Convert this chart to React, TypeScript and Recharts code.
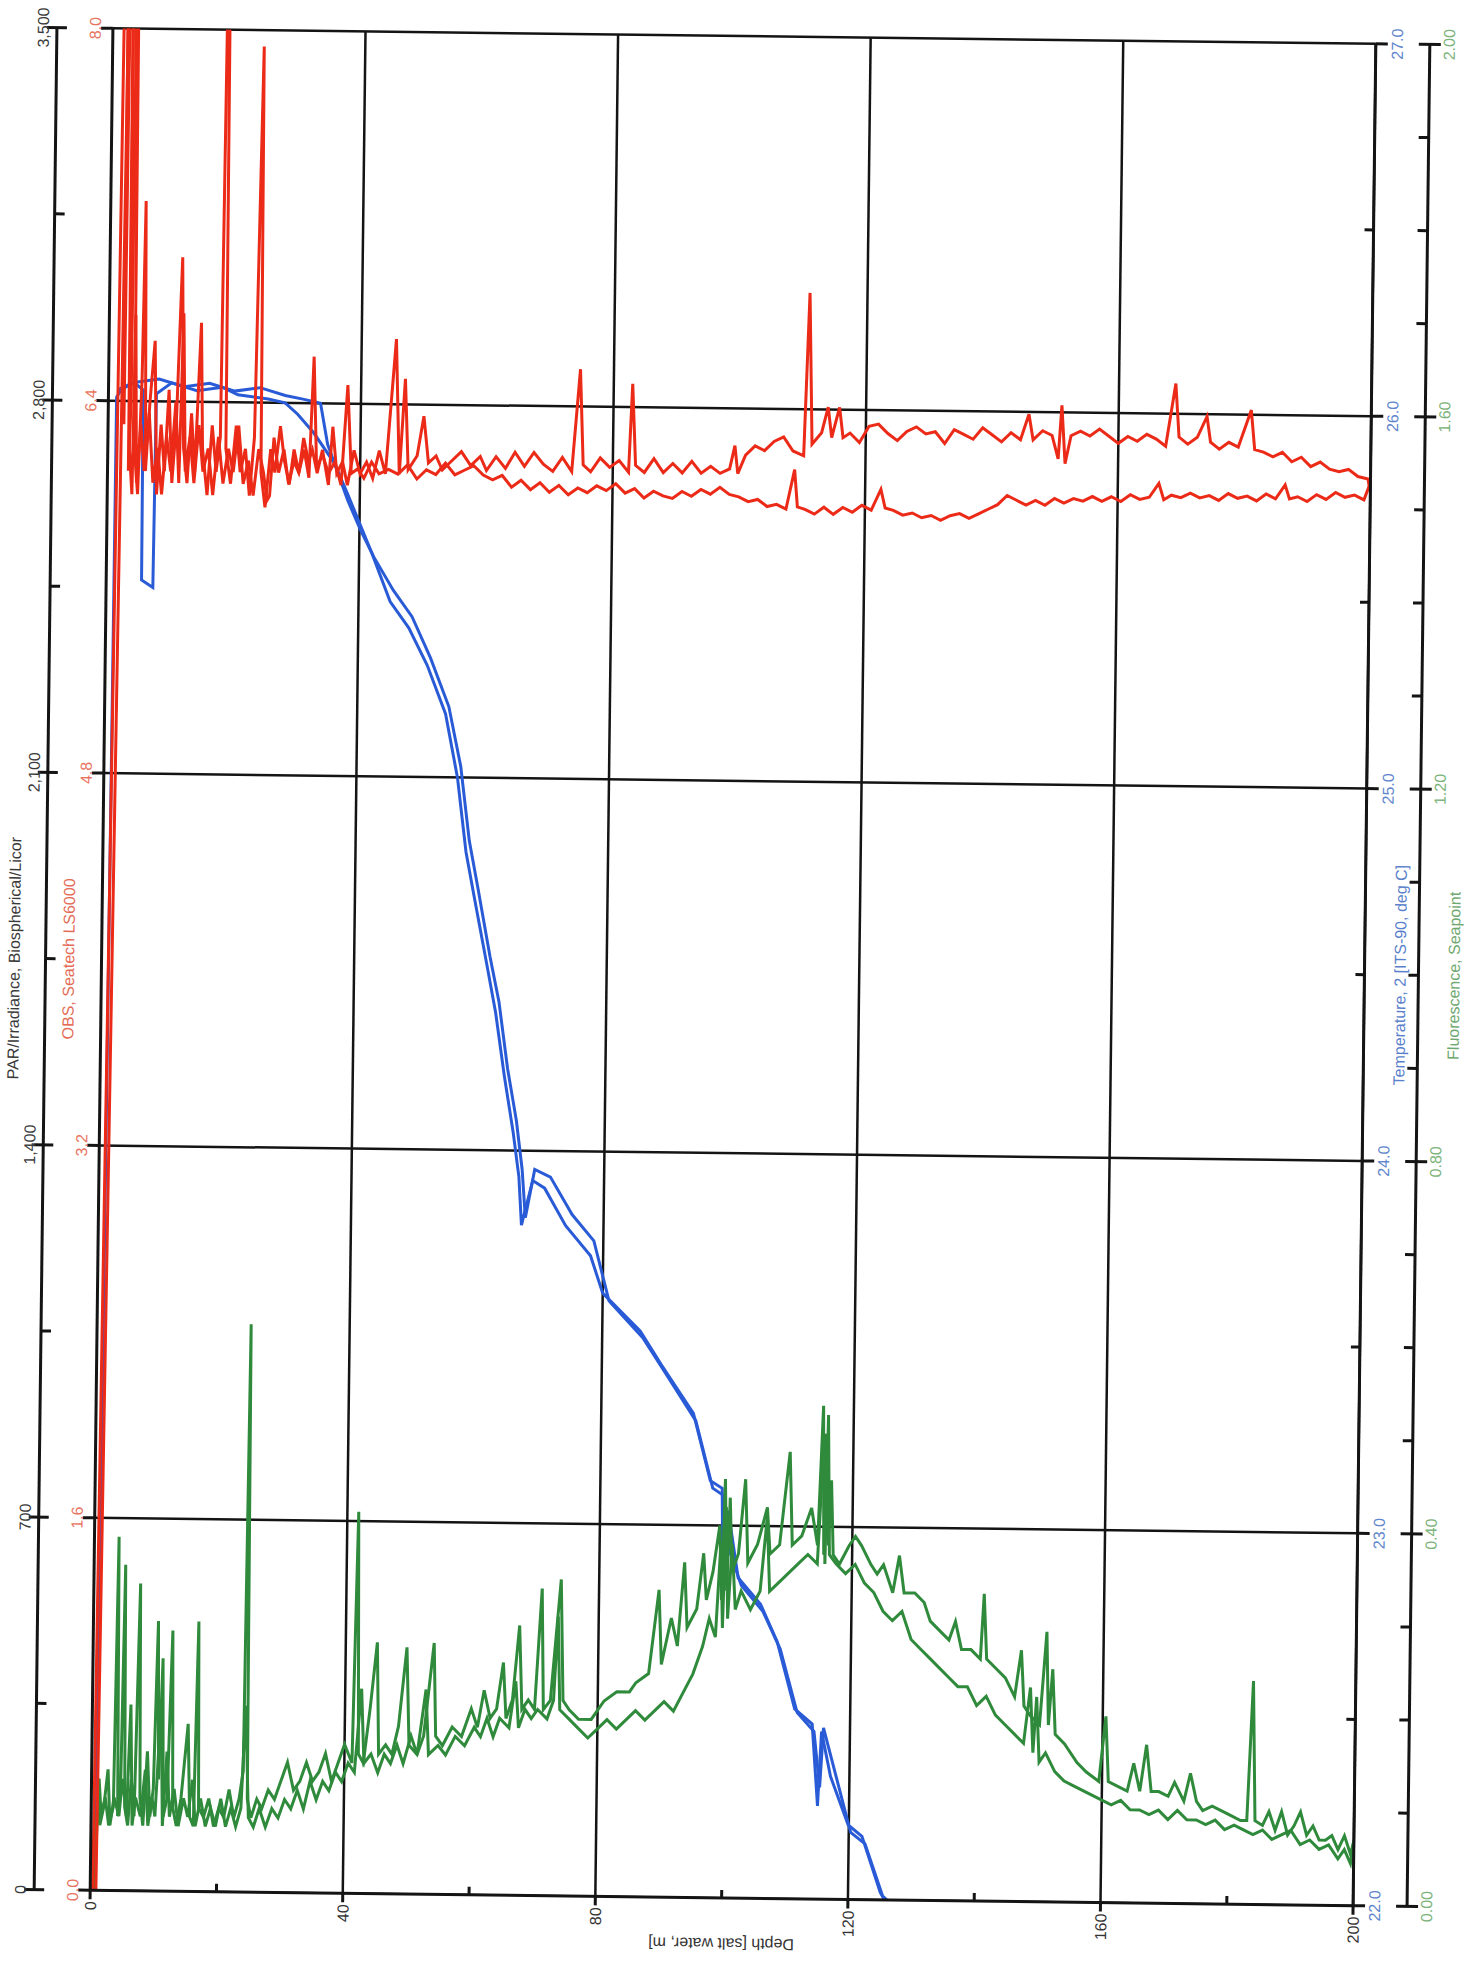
import React from "react";
import { LineChart, Line, XAxis, YAxis, ReferenceLine } from "recharts";

const FONT = "'Liberation Sans', Arial, Helvetica, sans-serif";

// axis ticks
const depthTicks = [0, 20, 40, 60, 80, 100, 120, 140, 160, 180, 200];
const parTicks = [0, 350, 700, 1050, 1400, 1750, 2100, 2450, 2800, 3150, 3500];
const obsTicks = [0, 1.6, 3.2, 4.8, 6.4, 8.0];
const tempTicks = [22, 22.5, 23, 23.5, 24, 24.5, 25, 25.5, 26, 26.5, 27];
const fluorTicks = [0, 0.1, 0.2, 0.3, 0.4, 0.5, 0.6, 0.7, 0.8, 0.9, 1.0, 1.1, 1.2, 1.3, 1.4, 1.5, 1.6, 1.7, 1.8, 1.9, 2.0];
const depthGrid = [40, 80, 120, 160, 200];
const obsGrid = [1.6, 3.2, 4.8, 6.4, 8.0];

// [depth m, value]
const par: [number, number][] = [[0.2, 0], [1, 0], [50, 0], [100, 0], [150, 0], [200, 0]];

const tempDown: [number, number][] = [
  [0.8, 21.98], [1.3, 26.01], [2, 26.03], [4, 26.05], [5.5, 26.03], [5.6, 25.52], [7.4, 25.5], [7.6, 26.02],
  [10, 26.05], [14, 26.03], [18, 26.04], [20.5, 26.02], [25.3, 26.01], [28, 26.0], [30, 25.97], [32.6, 25.92],
  [35.9, 25.84], [38, 25.76], [40, 25.68], [42, 25.6], [45, 25.47], [48, 25.4], [51, 25.3], [54, 25.17],
  [56, 25.0], [57.5, 24.8], [59, 24.67], [61, 24.5], [62.5, 24.37], [64, 24.2], [65.5, 24.05], [66.5, 23.93],
  [67, 23.8], [68.7, 23.92], [70.6, 23.9], [74, 23.8], [78, 23.72], [80, 23.62], [86, 23.52], [89.4, 23.43],
  [94.6, 23.3], [97.4, 23.12], [99.3, 23.1], [99.5, 22.92], [100.3, 23.04], [102, 22.86], [105.6, 22.79],
  [108.3, 22.69], [111.2, 22.51], [114, 22.47], [115, 22.25], [115.5, 22.45], [117, 22.33], [119.9, 22.2],
  [122.1, 22.17], [125.1, 22.02], [126.5, 21.98],
];

const tempUp: [number, number][] = [
  [1.5, 26.03], [4, 26.05], [8, 26.06], [12, 26.04], [16, 26.05], [20, 26.03], [24, 26.04], [28, 26.02],
  [31, 26.01], [33.6, 26.0], [34.8, 25.89], [38.1, 25.74], [40.2, 25.66], [42.3, 25.59], [45.5, 25.5],
  [48.5, 25.43], [51.5, 25.32], [54.5, 25.19], [56.5, 25.03], [58, 24.83], [59.5, 24.7], [61.5, 24.52],
  [63, 24.4], [64.5, 24.22], [66, 24.08], [67, 23.95], [67.6, 23.82], [69, 23.95], [71.5, 23.93], [75, 23.83],
  [78.5, 23.76], [81, 23.6], [86.5, 23.5], [90, 23.41], [95, 23.28], [97.8, 23.1], [99.6, 23.08], [100.2, 22.95],
  [102.5, 22.84], [106, 22.77], [108.8, 22.67], [111.6, 22.5], [114.3, 22.45], [115.3, 22.3], [115.8, 22.46],
  [120.3, 22.18], [122.6, 22.15], [125.5, 22.01], [126.8, 21.99],
];

const obsDown: [number, number][] = [
  [0.4, 0.0], [2.2, 10.5], [2.5, 6.3], [3.0, 11], [3.3, 6.1], [3.6, 6.4], [3.9, 10.5], [4.2, 6.2], [4.8, 6.0],
  [5.3, 6.5], [5.6, 7.26], [6.0, 6.1], [6.6, 6.4], [7.3, 6.66], [7.8, 6.0], [8.4, 6.3], [9.0, 6.1], [9.6, 6.45],
  [10.2, 6.05], [10.8, 6.3], [11.5, 7.02], [12.0, 6.2], [12.6, 6.05], [13.2, 6.35], [13.8, 6.1], [14.6, 6.74],
  [15.0, 6.2], [15.8, 6.0], [16.5, 6.3], [17.2, 6.1], [17.8, 6.25], [18.4, 9.5], [18.7, 6.2], [19.5, 6.05],
  [20.3, 6.3], [21.0, 6.1], [21.8, 6.2], [22.5, 6.0], [23.2, 6.25], [24.0, 7.93], [24.3, 6.1], [25.0, 5.95],
  [25.8, 6.2], [26.5, 6.1], [27.3, 6.3], [28.0, 6.15], [28.8, 6.05], [29.5, 6.2], [30.3, 6.1], [31.0, 6.25],
  [31.8, 6.15], [32.4, 6.2], [33.2, 6.1], [34.0, 6.2], [35.0, 6.05], [35.6, 6.3], [36.3, 6.1], [37.2, 6.15],
  [38.0, 6.05], [39.0, 6.2], [40.0, 6.1], [41.0, 6.15], [42.0, 6.08], [43, 6.2], [44, 6.1], [45.5, 6.68],
  [46.2, 6.1], [47, 6.51], [47.6, 6.12], [49, 6.18], [50, 6.35], [50.8, 6.15], [52, 6.18], [53, 6.12],
  [54.5, 6.16], [56, 6.2], [57.5, 6.14], [59, 6.18], [60, 6.12], [61.5, 6.18], [63, 6.13], [64.5, 6.2],
  [66, 6.14], [67.5, 6.2], [69, 6.15], [70.5, 6.12], [72, 6.18], [73.5, 6.12], [74.7, 6.56], [75.3, 6.15],
  [76.5, 6.12], [78, 6.18], [79.5, 6.14], [81, 6.17], [82.5, 6.12], [83, 6.5], [83.6, 6.15], [85, 6.12],
  [86.5, 6.18], [88, 6.12], [89.5, 6.16], [91, 6.12], [92.5, 6.17], [94, 6.12], [95.5, 6.15], [97, 6.12],
  [98.5, 6.14], [99.3, 6.24], [99.8, 6.12], [101, 6.2], [102.5, 6.24], [104, 6.22], [105.5, 6.26], [107, 6.28],
  [108.5, 6.22], [110.2, 6.2], [110.9, 6.9], [111.5, 6.25], [113, 6.3], [114, 6.41], [114.6, 6.28], [115.8, 6.41],
  [116.4, 6.28], [117.5, 6.3], [119, 6.26], [120.5, 6.33], [122, 6.34], [123.5, 6.3], [125, 6.27], [126.5, 6.31],
  [128, 6.33], [129.5, 6.3], [131, 6.31], [132.5, 6.26], [134, 6.32], [135.5, 6.3], [137, 6.28], [138.5, 6.33],
  [140, 6.3], [141.5, 6.27], [143, 6.31], [144.5, 6.28], [145.8, 6.39], [146.5, 6.28], [148, 6.32], [149.5, 6.3],
  [150.5, 6.2], [151, 6.43], [151.6, 6.18], [152.5, 6.3], [154, 6.32], [155.5, 6.3], [157, 6.33], [158.5, 6.3],
  [160, 6.27], [161.5, 6.3], [163, 6.28], [164.5, 6.31], [166, 6.29], [167.5, 6.26], [169, 6.53], [169.6, 6.3],
  [171, 6.27], [172.5, 6.3], [174, 6.39], [174.6, 6.28], [176, 6.25], [177.5, 6.28], [179, 6.26], [181, 6.42],
  [181.6, 6.25], [183, 6.24], [184.5, 6.22], [186, 6.24], [187.5, 6.2], [189, 6.22], [190.5, 6.18], [192, 6.2],
  [193.5, 6.17], [195, 6.16], [196.5, 6.17], [198, 6.14], [199.6, 6.13], [199.8, 6.1],
];

const obsUp: [number, number][] = [
  [0.9, 0.0], [3.0, 11.0], [3.4, 6.2], [3.9, 6.0], [4.2, 6.77], [4.6, 6.05], [5.2, 6.3], [5.8, 6.1],
  [6.5, 6.35], [7.2, 6.05], [7.9, 6.2], [8.6, 6.0], [9.3, 6.25], [10.0, 6.1], [10.7, 6.4], [11.3, 6.05],
  [11.8, 6.78], [12.3, 6.1], [13.0, 6.25], [13.7, 6.05], [14.4, 6.3], [15.1, 6.1], [15.9, 6.2], [16.7, 6.0],
  [17.5, 6.25], [18.3, 6.05], [19.1, 6.2], [19.9, 6.1], [20.7, 6.3], [21.5, 6.05], [22.3, 6.15], [23.1, 6.0],
  [23.9, 6.2], [24.7, 6.1], [25.3, 5.98], [25.7, 6.0], [26.3, 6.25], [27.1, 6.1], [27.9, 6.2], [28.7, 6.05],
  [29.5, 6.15], [30.3, 6.1], [31.1, 6.2], [31.9, 6.08], [32.5, 6.6], [33.1, 6.12], [34.0, 6.18], [35.0, 6.1],
  [36.0, 6.15], [37.0, 6.05], [37.9, 6.48], [38.6, 6.1], [39.6, 6.12], [40.6, 6.08], [41.8, 6.15], [43.0, 6.1],
  [44.5, 6.12], [46, 6.1], [47.5, 6.14], [49, 6.08], [50.5, 6.12], [52, 6.1], [53.5, 6.15], [55, 6.1],
  [56.5, 6.12], [58, 6.14], [59.5, 6.1], [61, 6.08], [62.5, 6.1], [64, 6.05], [65.5, 6.08], [67, 6.04],
  [68.5, 6.07], [70, 6.03], [71.5, 6.06], [73, 6.02], [74.5, 6.05], [76, 6.03], [77.5, 6.06], [79, 6.04],
  [80.5, 6.07], [82, 6.03], [83.5, 6.05], [85, 6.01], [86.5, 6.04], [88, 6.02], [89.5, 6.01], [91, 6.04],
  [92.5, 6.02], [94, 6.05], [95.5, 6.03], [97, 6.06], [98.5, 6.03], [100, 6.02], [101.5, 6.0], [103, 6.01],
  [104.5, 5.98], [106, 5.99], [107.5, 5.97], [108.8, 6.14], [109.3, 5.98], [110.5, 5.97], [112, 5.95],
  [113.5, 5.98], [115, 5.95], [116.5, 5.98], [118, 5.96], [119.5, 5.99], [121, 5.97], [122.5, 6.06],
  [123.2, 5.98], [124.5, 5.97], [126, 5.95], [127.5, 5.96], [129, 5.94], [130.5, 5.95], [132, 5.93],
  [133.5, 5.95], [135, 5.96], [136.5, 5.94], [138, 5.96], [139.5, 5.98], [141, 6.0], [142.5, 6.04], [144, 6.02],
  [145.5, 6.0], [147, 6.02], [148.5, 6.0], [150, 6.03], [151.5, 6.01], [153, 6.03], [154.5, 6.02], [156, 6.04],
  [157.5, 6.02], [159, 6.04], [160.5, 6.02], [162, 6.05], [163.5, 6.03], [165, 6.04], [166.5, 6.1],
  [167.3, 6.03], [168.5, 6.05], [170, 6.04], [171.5, 6.06], [173, 6.04], [174.5, 6.05], [176, 6.03],
  [177.5, 6.06], [179, 6.04], [180.5, 6.05], [182, 6.03], [183.5, 6.06], [185, 6.04], [186.5, 6.1],
  [187.2, 6.04], [188.5, 6.05], [190, 6.03], [191.5, 6.06], [193, 6.04], [194.5, 6.07], [196, 6.05],
  [197.5, 6.06], [199, 6.04], [199.8, 6.1],
];

const fluorDown: [number, number][] = [
  [0.3, 0.0], [0.8, 0.04], [1.2, 0.12], [1.6, 0.08], [2.2, 0.1], [2.8, 0.07], [3.5, 0.09], [3.9, 0.38],
  [4.2, 0.08], [4.6, 0.1], [5.0, 0.35], [5.3, 0.09], [5.8, 0.07], [6.3, 0.12], [6.8, 0.08], [7.4, 0.33],
  [7.7, 0.1], [8.2, 0.07], [8.8, 0.15], [9.3, 0.08], [9.8, 0.11], [10.3, 0.29], [10.6, 0.12], [11.1, 0.25],
  [11.4, 0.08], [12.0, 0.1], [12.6, 0.28], [12.9, 0.09], [13.5, 0.07], [14.2, 0.1], [15.2, 0.18], [15.6, 0.08],
  [16.2, 0.07], [16.7, 0.29], [17.0, 0.09], [17.8, 0.08], [18.6, 0.1], [19.4, 0.07], [20.2, 0.09], [21.0, 0.08],
  [21.8, 0.11], [22.6, 0.08], [23.4, 0.1], [24.0, 0.13], [24.4, 0.61], [24.7, 0.1], [25.3, 0.08], [26.2, 0.1],
  [27.0, 0.09], [28.0, 0.11], [29.0, 0.1], [30.0, 0.12], [31.0, 0.14], [32.0, 0.11], [33.0, 0.12], [34.0, 0.14],
  [35.0, 0.12], [36.0, 0.13], [37.0, 0.15], [38.0, 0.12], [39.0, 0.14], [40.0, 0.16], [41.2, 0.14], [41.8, 0.41],
  [42.2, 0.15], [43.0, 0.14], [44.0, 0.2], [45.0, 0.27], [45.4, 0.15], [46.5, 0.16], [47.5, 0.15], [48.5, 0.18],
  [49.7, 0.265], [50.2, 0.16], [51.5, 0.15], [52.5, 0.17], [54.0, 0.27], [54.4, 0.17], [55.5, 0.16], [57.0, 0.18],
  [58.5, 0.17], [60.0, 0.2], [61.0, 0.18], [62.0, 0.22], [63.0, 0.19], [64.0, 0.2], [65.0, 0.25], [65.5, 0.19],
  [66.5, 0.21], [67.5, 0.29], [68.0, 0.2], [69.0, 0.21], [70.0, 0.2], [71.0, 0.33], [71.4, 0.2], [72.5, 0.21],
  [74.0, 0.34], [74.5, 0.21], [75.5, 0.2], [77.0, 0.19], [79.0, 0.19], [81.0, 0.21], [83.0, 0.22], [85.0, 0.22],
  [86.0, 0.23], [88.0, 0.24], [89.5, 0.33], [90.0, 0.25], [91.5, 0.3], [92.5, 0.27], [93.5, 0.36], [94.0, 0.29],
  [95.5, 0.31], [96.5, 0.37], [97.0, 0.32], [98.0, 0.35], [99.0, 0.4], [99.4, 0.32], [99.8, 0.45], [100.2, 0.33],
  [100.6, 0.43], [101.0, 0.35], [102.0, 0.37], [103.0, 0.45], [103.5, 0.36], [105.0, 0.38], [106.5, 0.42],
  [107.0, 0.37], [108.5, 0.38], [110.0, 0.48], [110.5, 0.38], [112.0, 0.39], [113.5, 0.42], [114.5, 0.38],
  [115.2, 0.53], [115.5, 0.37], [115.8, 0.5], [116.2, 0.38], [116.6, 0.45], [117.0, 0.37], [118.0, 0.36],
  [119.5, 0.38], [120.5, 0.39], [121.5, 0.38], [123.0, 0.36], [124.0, 0.35], [125.0, 0.36], [126.5, 0.33],
  [127.5, 0.37], [128.3, 0.33], [130.0, 0.33], [131.5, 0.32], [132.5, 0.3], [134.0, 0.29], [135.5, 0.28],
  [136.5, 0.3], [137.5, 0.27], [139.0, 0.27], [140.5, 0.26], [141.0, 0.33], [141.5, 0.26], [143.0, 0.25],
  [144.5, 0.24], [146.0, 0.22], [147.0, 0.27], [147.5, 0.21], [148.5, 0.2], [150.0, 0.19], [151.0, 0.29],
  [151.4, 0.19], [152.0, 0.25], [152.5, 0.18], [154.0, 0.17], [156.0, 0.15], [157.5, 0.14], [158.5, 0.135],
  [159.5, 0.13], [160.5, 0.2], [161.0, 0.13], [162.5, 0.125], [164.0, 0.12], [165.0, 0.15], [166.0, 0.12],
  [167.0, 0.17], [167.8, 0.12], [169.0, 0.12], [170.5, 0.115], [171.5, 0.13], [173.0, 0.11], [174.0, 0.14],
  [175.0, 0.11], [176.0, 0.1], [177.5, 0.105], [179.0, 0.1], [180.5, 0.095], [182.0, 0.09], [183.0, 0.09],
  [183.8, 0.24], [184.3, 0.09], [185.5, 0.085], [186.5, 0.1], [187.5, 0.08], [188.5, 0.1], [189.5, 0.075],
  [190.5, 0.085], [191.5, 0.1], [192.5, 0.075], [193.5, 0.085], [194.5, 0.07], [195.5, 0.07], [196.5, 0.075],
  [197.5, 0.06], [198.5, 0.075], [199.5, 0.055], [200.0, 0.07],
];

const fluorUp: [number, number][] = [
  [0.6, 0.0], [1.0, 0.1], [1.4, 0.07], [2.0, 0.09], [2.6, 0.13], [3.0, 0.07], [3.6, 0.1], [4.4, 0.08],
  [4.9, 0.12], [5.6, 0.08], [6.1, 0.2], [6.5, 0.07], [7.0, 0.1], [7.8, 0.08], [8.5, 0.13], [9.0, 0.07],
  [9.6, 0.1], [10.1, 0.08], [10.9, 0.2], [11.3, 0.07], [11.9, 0.15], [12.4, 0.08], [13.1, 0.11], [13.8, 0.07],
  [14.6, 0.1], [15.3, 0.08], [16.0, 0.12], [16.5, 0.07], [17.3, 0.1], [18.1, 0.07], [18.9, 0.09], [19.7, 0.07],
  [20.5, 0.1], [21.3, 0.07], [22.1, 0.09], [22.9, 0.07], [23.7, 0.09], [24.3, 0.2], [24.9, 0.08], [25.7, 0.07],
  [26.6, 0.09], [27.6, 0.07], [28.6, 0.09], [29.6, 0.08], [30.6, 0.1], [31.6, 0.09], [32.6, 0.11], [33.6, 0.09],
  [34.6, 0.12], [35.6, 0.1], [36.6, 0.12], [37.6, 0.11], [38.6, 0.13], [39.6, 0.12], [40.6, 0.14], [41.6, 0.13],
  [42.6, 0.22], [43.1, 0.14], [44.2, 0.15], [45.3, 0.13], [46.3, 0.15], [47.3, 0.14], [48.3, 0.16], [49.3, 0.14],
  [50.5, 0.17], [51.5, 0.15], [52.8, 0.22], [53.3, 0.15], [54.8, 0.16], [56.0, 0.15], [57.5, 0.17], [59.0, 0.16],
  [60.5, 0.18], [61.5, 0.17], [62.5, 0.19], [63.5, 0.17], [64.5, 0.19], [66.0, 0.18], [67.0, 0.23], [67.5, 0.18],
  [68.5, 0.2], [69.5, 0.19], [70.5, 0.2], [72.0, 0.19], [73.0, 0.21], [73.6, 0.3], [74.0, 0.2], [75.5, 0.19],
  [77.0, 0.18], [78.5, 0.17], [80.0, 0.18], [81.5, 0.19], [83.0, 0.18], [84.5, 0.19], [86.0, 0.2], [87.5, 0.19],
  [89.0, 0.2], [90.5, 0.21], [92.0, 0.2], [93.5, 0.22], [95.0, 0.24], [96.5, 0.27], [97.5, 0.3], [98.5, 0.28],
  [99.2, 0.38], [99.6, 0.29], [100.0, 0.42], [100.4, 0.3], [101.0, 0.38], [101.6, 0.31], [102.5, 0.33],
  [104.0, 0.31], [105.5, 0.33], [106.5, 0.41], [107.0, 0.33], [108.5, 0.34], [110.0, 0.35], [111.5, 0.36],
  [113.0, 0.37], [114.5, 0.36], [115.4, 0.5], [115.7, 0.36], [116.0, 0.52], [116.4, 0.37], [117.5, 0.36],
  [119.0, 0.35], [120.5, 0.36], [122.0, 0.34], [123.5, 0.33], [125.0, 0.31], [126.5, 0.3], [128.0, 0.31],
  [129.5, 0.28], [131.0, 0.27], [132.5, 0.26], [134.0, 0.25], [135.5, 0.24], [137.0, 0.23], [138.5, 0.23],
  [140.0, 0.21], [141.5, 0.22], [143.0, 0.2], [144.5, 0.19], [146.0, 0.18], [147.5, 0.17], [148.5, 0.23],
  [149.0, 0.16], [149.5, 0.22], [150.0, 0.15], [151.0, 0.16], [152.5, 0.14], [154.0, 0.13], [155.5, 0.125],
  [157.0, 0.12], [158.5, 0.115], [160.0, 0.11], [161.5, 0.105], [163.0, 0.11], [164.5, 0.1], [166.0, 0.1],
  [167.5, 0.095], [169.0, 0.1], [170.5, 0.09], [172.0, 0.1], [173.5, 0.09], [175.0, 0.09], [176.5, 0.085],
  [178.0, 0.09], [179.5, 0.08], [181.0, 0.085], [182.5, 0.08], [184.0, 0.075], [185.5, 0.08], [187.0, 0.07],
  [188.5, 0.075], [190.0, 0.08], [191.5, 0.065], [193.0, 0.07], [194.5, 0.06], [196.0, 0.065], [197.5, 0.05],
  [198.5, 0.06], [199.5, 0.045], [200.0, 0.07],
];

const pts = (arr: [number, number][]) => arr.map(([d, v]) => ({ d, v }));

const AXIS = "#141414";

function yTick(opts: {
  isMajor: (v: number) => boolean;
  major: [number, number];
  minor: [number, number];
  labelOff: number;
  color: string;
  fmt: (v: number) => string;
}) {
  return (p: any) => {
    const { x, y, payload } = p;
    const v = payload.value;
    const maj = opts.isMajor(v);
    const [a, b] = maj ? opts.major : opts.minor;
    const lx = x + opts.labelOff;
    return (
      <g>
        <line x1={x + a} x2={x + b} y1={y} y2={y} stroke={AXIS} strokeWidth={3} />
        {maj && (
          <text x={lx} y={y} transform={`rotate(-90, ${lx}, ${y})`} textAnchor="middle" fill={opts.color} fontSize={16} fontFamily={FONT}>
            {opts.fmt(v)}
          </text>
        )}
      </g>
    );
  };
}

const DepthTick = (p: any) => {
  const { x, y, payload } = p;
  const v = payload.value;
  const maj = v % 40 === 0;
  const tx = x + 6;
  const ty = y + 11;
  return (
    <g>
      <line x1={x} x2={x} y1={maj ? y : y - 8} y2={maj ? y + 9 : y} stroke={AXIS} strokeWidth={3} />
      {maj && (
        <text x={tx} y={ty} transform={`rotate(-90, ${tx}, ${ty})`} textAnchor="end" fill="#333" fontSize={16} fontFamily={FONT}>
          {v}
        </text>
      )}
    </g>
  );
};

const parTick = yTick({ isMajor: (v) => v % 700 === 0, major: [-10, 10], minor: [0, 10], labelOff: -8, color: "#3a3a3a", fmt: (v) => v.toLocaleString("en-US") });
const obsTick = yTick({ isMajor: () => true, major: [-12, 0], minor: [0, 0], labelOff: -12, color: "#e8745f", fmt: (v) => v.toFixed(1) });
const tempTick = yTick({ isMajor: (v) => Number.isInteger(v), major: [0, 12], minor: [-9, 0], labelOff: 27, color: "#5f86cc", fmt: (v) => v.toFixed(1) });
const fluorTick = yTick({ isMajor: (v) => Math.round(v * 10) % 4 === 0, major: [-11, 11], minor: [-10, 0], labelOff: 25, color: "#7bb37b", fmt: (v) => v.toFixed(2) });

const titleStyle = { fontSize: 16, fontFamily: FONT };

export default function App() {
  return (
    <div style={{ position: "absolute", left: 0, top: 0, width: 1464, height: 1965, background: "#fff", overflow: "hidden" }}>
      <div style={{ width: 1464, height: 1965, transform: "rotate(0.7deg)", transformOrigin: "733px 967px" }}>
        <LineChart width={1464} height={1965} margin={{ top: 36, right: 5.5, bottom: 7, left: 5.5 }} style={{ fontFamily: FONT }}>
          <XAxis
            xAxisId={0}
            dataKey="d"
            type="number"
            domain={[0, 200]}
            ticks={depthTicks}
            interval={0}
            allowDataOverflow
            height={60}
            tickSize={0}
            tickMargin={0}
            tickLine={false}
            axisLine={{ stroke: AXIS, strokeWidth: 3 }}
            tick={DepthTick}
            label={{ value: "Depth [salt water, m]", position: "center", angle: 180, dy: 16, fill: "#333", ...titleStyle }}
          />
          <YAxis
            yAxisId="l1"
            orientation="left"
            type="number"
            domain={[0, 8]}
            ticks={obsTicks}
            interval={0}
            allowDataOverflow
            width={56}
            tickSize={0}
            tickMargin={0}
            tickLine={false}
            axisLine={{ stroke: AXIS, strokeWidth: 3 }}
            tick={obsTick}
            label={{ value: "OBS, Seatech LS6000", position: "center", angle: -90, dx: -5, fill: "#e46a55", ...titleStyle }}
          />
          <YAxis
            yAxisId="l2"
            orientation="left"
            type="number"
            domain={[0, 3500]}
            ticks={parTicks}
            interval={0}
            allowDataOverflow
            width={40}
            tickSize={0}
            tickMargin={0}
            tickLine={false}
            axisLine={{ stroke: AXIS, strokeWidth: 3 }}
            tick={parTick}
            label={{ value: "PAR/Irradiance, Biospherical/Licor", position: "center", angle: -90, dx: -11.5, fill: "#3a3a3a", ...titleStyle }}
          />
          <YAxis
            yAxisId="r1"
            orientation="right"
            type="number"
            domain={[22, 27]}
            ticks={tempTicks}
            interval={0}
            allowDataOverflow
            width={54}
            tickSize={0}
            tickMargin={0}
            tickLine={false}
            axisLine={{ stroke: AXIS, strokeWidth: 3 }}
            tick={tempTick}
            label={{ value: "Temperature, 2 [ITS-90, deg C]", position: "center", angle: -90, dx: 8.5, fill: "#5a7fcc", ...titleStyle }}
          />
          <YAxis
            yAxisId="r2"
            orientation="right"
            type="number"
            domain={[0, 2]}
            ticks={fluorTicks}
            interval={0}
            allowDataOverflow
            width={40}
            tickSize={0}
            tickMargin={0}
            tickLine={false}
            axisLine={{ stroke: AXIS, strokeWidth: 3 }}
            tick={fluorTick}
            label={{ value: "Fluorescence, Seapoint", position: "center", angle: -90, dx: 15.5, fill: "#6fa86f", ...titleStyle }}
          />

          {depthGrid.map((d) => (
            <ReferenceLine key={`gx${d}`} x={d} yAxisId="l1" stroke={AXIS} strokeWidth={2.5} />
          ))}
          {obsGrid.map((v) => (
            <ReferenceLine key={`gy${v}`} y={v} yAxisId="l1" stroke={AXIS} strokeWidth={2.5} />
          ))}

          <Line yAxisId="l2" data={pts(par)} dataKey="v" stroke="#111" strokeWidth={2} dot={false} activeDot={false} isAnimationActive={false} />
          <Line yAxisId="r1" data={pts(tempDown)} dataKey="v" stroke="#2a5bd7" strokeWidth={3} dot={false} activeDot={false} isAnimationActive={false} />
          <Line yAxisId="r1" data={pts(tempUp)} dataKey="v" stroke="#2a5bd7" strokeWidth={3} dot={false} activeDot={false} isAnimationActive={false} />
          <Line yAxisId="r2" data={pts(fluorDown)} dataKey="v" stroke="#2f8a3b" strokeWidth={3} dot={false} activeDot={false} isAnimationActive={false} />
          <Line yAxisId="r2" data={pts(fluorUp)} dataKey="v" stroke="#2f8a3b" strokeWidth={3} dot={false} activeDot={false} isAnimationActive={false} />
          <Line yAxisId="l1" data={pts(obsDown)} dataKey="v" stroke="#ec2a18" strokeWidth={3} dot={false} activeDot={false} isAnimationActive={false} />
          <Line yAxisId="l1" data={pts(obsUp)} dataKey="v" stroke="#ec2a18" strokeWidth={3} dot={false} activeDot={false} isAnimationActive={false} />
        </LineChart>
      </div>
    </div>
  );
}
